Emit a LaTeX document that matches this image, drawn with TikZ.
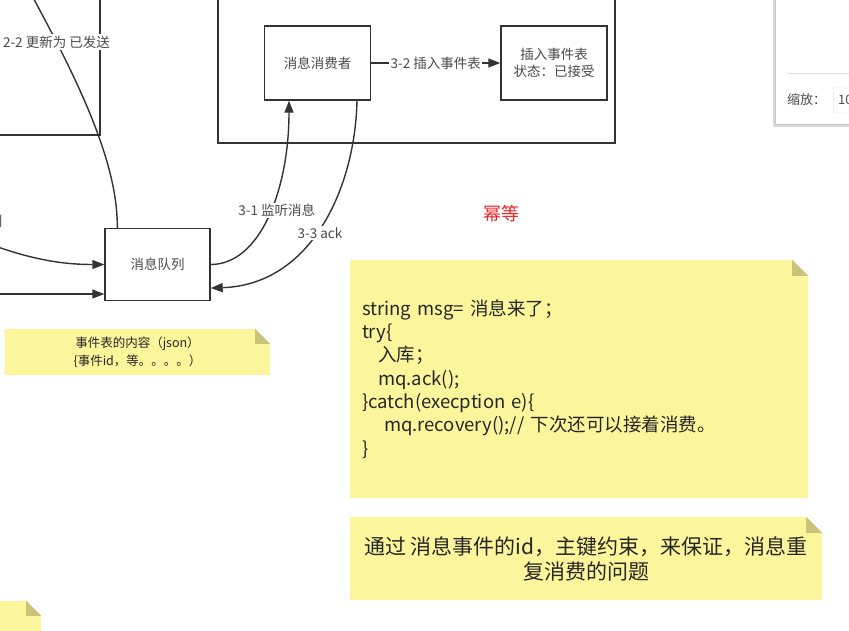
\documentclass[tikz,border=0pt]{standalone}
\usepackage{fontspec}
\newfontfamily\cjk{Noto Sans CJK SC}
\usetikzlibrary{arrows.meta, positioning, calc}
\definecolor{inkgray}{HTML}{333333}
\definecolor{txtgray}{HTML}{4A4A4A}
\definecolor{noteyel}{HTML}{FBF69C}
\definecolor{notefold}{HTML}{C9C47A}
\definecolor{alertred}{HTML}{E8232B}
\definecolor{panelgray}{HTML}{C8C8C8}

\begin{document}
\begin{tikzpicture}[x=1pt, y=-1pt,
  >={Triangle[length=12pt, width=9pt]},
  box/.style={draw=inkgray, line width=1.4pt, fill=white,
    minimum width=106pt, minimum height=74pt,
    font=\cjk\fontsize{13.5}{17}\selectfont, text=txtgray,
    align=center, inner sep=2pt},
  note/.style={fill=noteyel, inner sep=0pt, text=black!85, font=\cjk},
  lbl/.style={fill=white, inner sep=1.5pt,
    font=\cjk\fontsize{13.5}{17}\selectfont, text=txtgray},
  arr/.style={->, line width=1.4pt, inkgray},
  wire/.style={line width=1.4pt, inkgray},
]

% Background
\fill[white] (0,0) rectangle (849,630);
\useasboundingbox (0,0) rectangle (849,630);

% =============================================
% Producer side (cut off, left)
% =============================================
\draw[wire] (100,-10) -- (100,135) -- (-10,135);
\node[lbl, anchor=east] (lblin) at (4,221) {列};

% =============================================
% Consumer service
% =============================================
\draw[wire] (218,-10) rectangle (615,143);

\node[box] (consumer) at (317.5,63) {消息消费者};
\node[box] (insert) at (554,63) {插入事件表\\状态：已接受};

% 3-2
\draw[arr] (consumer) -- node[lbl] {3-2 插入事件表} (insert);

% =============================================
% Message queue
% =============================================
\node[box, minimum width=105pt, minimum height=72pt] (queue) at (157.5,264.5) {消息队列};

% incoming arrows from the left
\coordinate (inA) at (-5,246);
\coordinate (inB) at (-5,294);
\draw[arr] (inA) .. controls (40,262) and (70,264.5) .. (queue.west);
\draw[arr] (inB) -- (inB -| queue.west);

% 2-2
\coordinate (up22) at (30,-8);
\draw[wire] ([xshift=13pt]queue.north west) .. controls (118,160) and (75,75) .. (up22)
  node[lbl, pos=0.8] {2-2 更新为 已发送};

% 3-1
\draw[arr] (queue.east) .. controls (260,264.5) and (289,190) .. ([xshift=-28.5pt]consumer.south)
  node[lbl, pos=0.53, xshift=6pt] {3-1 监听消息};

% 3-3
\draw[arr] ([xshift=39.5pt]consumer.south) .. controls (355,190) and (310,285) .. ([yshift=-23.5pt]queue.east)
  node[lbl, pos=0.53, xshift=4pt] {3-3 ack};

\node[font=\cjk\fontsize{18}{20}\selectfont, text=alertred] (idem) at (501,214) {幂等};

% =============================================
% Sticky notes
% =============================================
\node[note, minimum width=265pt, minimum height=46pt, align=center,
  font=\cjk\fontsize{12.5}{18}\selectfont] (json) at (137.5,352)
  {事件表的内容（json）\\\{事件id，等。。。。）};

\node[note, minimum width=458pt, minimum height=238pt, text width=434pt,
  inner xsep=12pt, align=left, font=\cjk\fontsize{18.5}{23.3}\selectfont] (code) at (579,379)
  {string msg= 消息来了；\\
   try\{\\
   \hspace*{16pt}入库；\\
   \hspace*{16pt}mq.ack();\\
   \}catch(execption e)\{\\
   \hspace*{22pt}mq.recovery();// 下次还可以接着消费。\\
   \}};

\node[note, minimum width=472pt, minimum height=83pt, align=center,
  font=\cjk\fontsize{21}{25}\selectfont] (dedup) at (586,558.5)
  {通过 消息事件的id，主键约束，来保证，消息重\\复消费的问题};

\node[note, minimum width=101pt, minimum height=79pt] (more) at (-9.5,640.5) {};

% folded corners
\foreach \n/\f in {json/15, code/16, dedup/16, more/15} {
  \fill[white] ($(\n.north east)+(-\f,0)$) -- (\n.north east) -- ($(\n.north east)+(0,\f)$) -- cycle;
  \fill[notefold] ($(\n.north east)+(-\f,0)$) -- ($(\n.north east)+(-\f,\f)$) -- ($(\n.north east)+(0,\f)$) -- cycle;
}

% =============================================
% Zoom panel (top right)
% =============================================
\fill[panelgray!70] (773,-10) rectangle (860,127);
\filldraw[fill=white, draw=panelgray] (775,-10) rectangle (860,124);
\draw[gray!25] (788,73) -- (860,73);
\node[font=\cjk\fontsize{13}{16}\selectfont, text=txtgray, anchor=west, inner sep=0pt]
  (zoomlbl) at (787,100) {缩放：};
\node[draw=gray!35, rounded corners=2pt, anchor=west, minimum height=26pt,
  text width=40pt, inner xsep=5pt, align=left,
  font=\cjk\fontsize{13}{16}\selectfont, text=txtgray] (zoomval) at (833,100) {10};

\end{tikzpicture}
\end{document}
